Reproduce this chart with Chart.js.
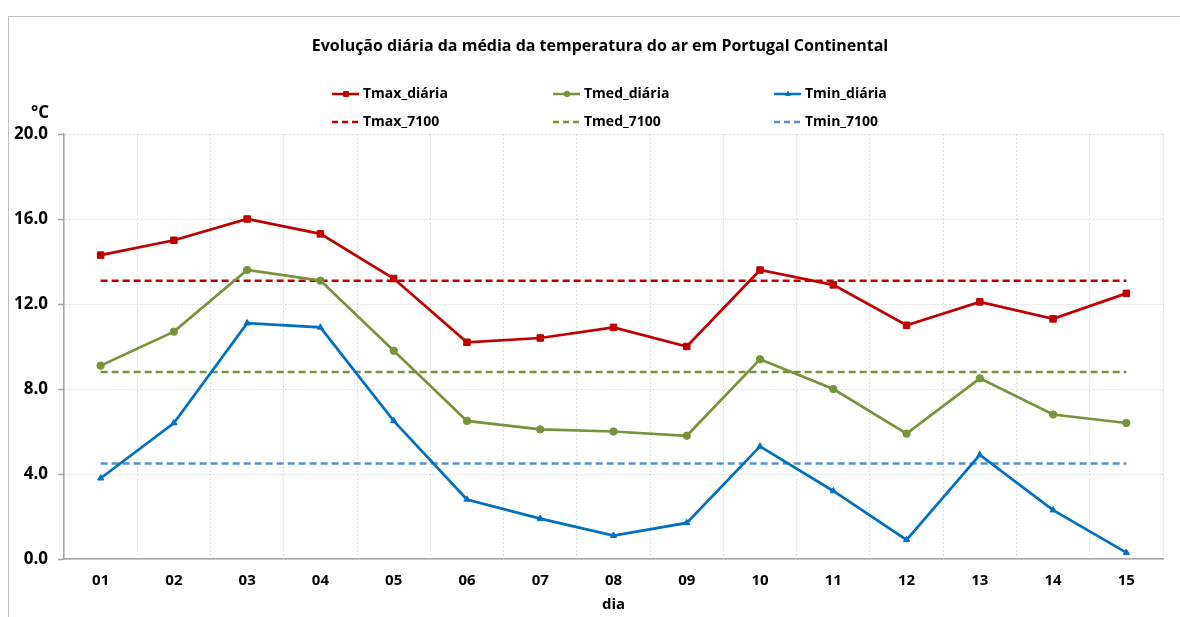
<!DOCTYPE html>
<html>
<head>
<meta charset="utf-8">
<script src="https://cdn.jsdelivr.net/npm/chart.js@4.4.1/dist/chart.umd.min.js"></script>
<style>
  html, body { margin: 0; padding: 0; background: #ffffff; overflow: hidden; }
  #wrap { position: relative; width: 1180px; height: 617px; }
  #frame { position: absolute; left: 8px; top: 16px; width: 1300px; height: 700px; border: 1px solid #c0c0c0; box-sizing: border-box; }
  canvas { position: absolute; left: 0; top: 0; }
</style>
</head>
<body>
<div id="wrap">
  <div id="frame"></div>
  <canvas id="c" width="1180" height="617"></canvas>
</div>
<script>
// ---- data ----
const days = ['01','02','03','04','05','06','07','08','09','10','11','12','13','14','15'];
const tmaxDiaria = [14.3, 15.0, 16.0, 15.3, 13.2, 10.2, 10.4, 10.9, 10.0, 13.6, 12.9, 11.0, 12.1, 11.3, 12.5];
const tmedDiaria = [9.1, 10.7, 13.6, 13.1, 9.8, 6.5, 6.1, 6.0, 5.8, 9.4, 8.0, 5.9, 8.5, 6.8, 6.4];
const tminDiaria = [3.8, 6.4, 11.1, 10.9, 6.5, 2.8, 1.9, 1.1, 1.7, 5.3, 3.2, 0.9, 4.9, 2.3, 0.3];
const tmax7100 = [13.1, 13.1, 13.1, 13.1, 13.1, 13.1, 13.1, 13.1, 13.1, 13.1, 13.1, 13.1, 13.1, 13.1, 13.1];
const tmed7100 = [8.8, 8.8, 8.8, 8.8, 8.8, 8.8, 8.8, 8.8, 8.8, 8.8, 8.8, 8.8, 8.8, 8.8, 8.8];
const tmin7100 = [4.5, 4.5, 4.5, 4.5, 4.5, 4.5, 4.5, 4.5, 4.5, 4.5, 4.5, 4.5, 4.5, 4.5, 4.5];
const seriesLabels = ['Tmax_diária', 'Tmed_diária', 'Tmin_diária', 'Tmax_7100', 'Tmed_7100', 'Tmin_7100'];
const yTicks = [0, 4, 8, 12, 16, 20];
const titleText = 'Evolução diária da média da temperatura do ar em Portugal Continental';
const yUnit = '°C';
const xTitle = 'dia';

// ---- styles ----
const RED = '#C00000', GREEN = '#77933C', BLUE = '#0070C0', LBLUE = '#558ED5';
const FONT = "'Open Sans', 'DejaVu Sans', sans-serif";
const LEGEND_X = [332, 553, 774];
const LEGEND_Y = [94, 122];

function solid(label, data, color, style, radius) {
  return { label, data, borderColor: color, backgroundColor: color, borderWidth: 2.7,
    pointStyle: style, pointRadius: radius, pointHoverRadius: radius, pointBorderWidth: 1,
    pointBackgroundColor: color, pointBorderColor: color, tension: 0, fill: false };
}
function dashed(label, data, color) {
  return { label, data, borderColor: color, backgroundColor: color, borderWidth: 2.5,
    borderDash: [7, 4], pointRadius: 0, pointHoverRadius: 0, tension: 0, fill: false };
}

const decor = {
  id: 'decor',
  afterDraw(chart) {
    const ctx = chart.ctx;
    ctx.save();
    ctx.fillStyle = '#000';
    ctx.textBaseline = 'middle';
    ctx.textAlign = 'center';
    ctx.font = 'bold 16px ' + FONT;
    ctx.fillText(titleText, 600, 46);
    ctx.textAlign = 'left';
    ctx.font = 'bold 17px ' + FONT;
    ctx.fillText(yUnit, 31, 113);
    chart.data.datasets.forEach((ds, i) => {
      const col = i % 3, row = Math.floor(i / 3);
      const x0 = LEGEND_X[col], y = LEGEND_Y[row];
      ctx.save();
      ctx.strokeStyle = ds.borderColor;
      ctx.lineWidth = 2.5;
      ctx.setLineDash(ds.borderDash ? [6, 4] : []);
      ctx.beginPath();
      ctx.moveTo(x0, y);
      ctx.lineTo(x0 + 27, y);
      ctx.stroke();
      ctx.setLineDash([]);
      if (ds.pointRadius > 0) {
        ctx.fillStyle = ds.borderColor;
        ctx.strokeStyle = ds.borderColor;
        ctx.lineWidth = 1;
        Chart.helpers.drawPoint(ctx, { pointStyle: ds.pointStyle, radius: ds.pointRadius * 0.75, borderWidth: 1, rotation: 0 }, x0 + 14, y);
      }
      ctx.fillStyle = '#000';
      ctx.font = 'bold 14px ' + FONT;
      ctx.textAlign = 'left';
      ctx.textBaseline = 'middle';
      ctx.fillText(ds.label, x0 + 31, y);
      ctx.restore();
    });
    ctx.restore();
  }
};

new Chart(document.getElementById('c'), {
  type: 'line',
  data: {
    labels: days,
    datasets: [
      solid(seriesLabels[0], tmaxDiaria, RED, 'rect', 4.6),
      solid(seriesLabels[1], tmedDiaria, GREEN, 'circle', 3.7),
      solid(seriesLabels[2], tminDiaria, BLUE, 'triangle', 3.6),
      dashed(seriesLabels[3], tmax7100, RED),
      dashed(seriesLabels[4], tmed7100, GREEN),
      dashed(seriesLabels[5], tmin7100, LBLUE)
    ]
  },
  options: {
    responsive: false,
    animation: false,
    devicePixelRatio: 1,
    layout: { padding: { left: 8, right: 17, top: 134, bottom: 0 } },
    plugins: { legend: { display: false }, title: { display: false }, tooltip: { enabled: false } },
    events: [],
    scales: {
      x: {
        type: 'category',
        offset: true,
        grid: { display: true, offset: true, color: '#dcdcdc', lineWidth: 1, drawTicks: false },
        border: { display: true, color: '#a6a6a6', width: 1.6, dash: [2, 2] },
        ticks: { color: '#000', font: { family: FONT, size: 15, weight: 'bold' }, padding: 13, maxRotation: 0, autoSkip: false },
        title: { display: true, text: xTitle, color: '#000', font: { family: FONT, size: 15, weight: 'bold' }, padding: { top: 0, bottom: 3 } },
        afterFit(s) { s.height = 58; }
      },
      y: {
        min: 0, max: 20,
        afterBuildTicks(s) { s.ticks = yTicks.map(v => ({ value: v })); },
        grid: { color: '#dcdcdc', lineWidth: 1, drawTicks: true, tickLength: 6, tickColor: '#a6a6a6', tickWidth: 1.6, tickBorderDash: [] },
        border: { display: true, color: '#a6a6a6', width: 1.6, dash: [2, 2] },
        ticks: { color: '#000', font: { family: FONT, size: 17, weight: 'bold' }, padding: 10, callback: v => Number(v).toFixed(1) },
        afterFit(s) { s.width = 56; }
      }
    }
  },
  plugins: [decor]
});
</script>
</body>
</html>
